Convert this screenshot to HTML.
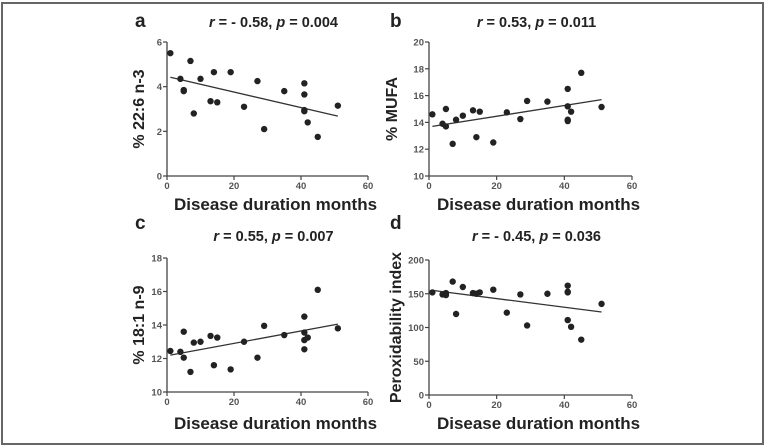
<!DOCTYPE html>
<html><head><meta charset="utf-8"><style>
body{margin:0;background:#fff;}
svg{display:block;font-family:"Liberation Sans",Arial,sans-serif;}
</style></head><body>
<svg id="fig" width="766" height="447" viewBox="0 0 766 447">
<rect x="2" y="3" width="761" height="441" fill="#fff" stroke="#666" stroke-width="2"/>
</svg>
<script>
const xMonths = [1,4,5,5,7,8,10,13,14,15,19,23,27,29,35,41,41,41,41,42,45,51];
const dhaValues = [5.5,4.35,3.85,3.8,5.15,2.8,4.35,3.35,4.65,3.3,4.65,3.1,4.25,2.1,3.8,4.15,3.65,2.95,2.9,2.4,1.75,3.15];
const mufaValues = [14.6,13.9,15.0,13.7,12.4,14.2,14.5,14.9,12.9,14.8,12.5,14.75,14.25,15.6,15.55,16.5,15.2,14.2,14.1,14.8,17.7,15.15];
const oleicValues = [12.45,12.4,12.05,13.6,11.2,12.95,13.0,13.35,11.6,13.25,11.35,13.0,12.05,13.95,13.4,14.5,13.55,13.1,12.55,13.25,16.1,13.8];
const peroxValues = [152,149,148,151,168,120,160,151,150,152,156,122,149,103,150,162,153,111,152,101,82,135];
const xTicks = [0,20,40,60];
const dhaTicks = [0,2,4,6];
const mufaTicks = [10,12,14,16,18,20];
const oleicTicks = [10,12,14,16,18];
const peroxTicks = [0,50,100,150,200];
const dhaFit = [4.42,2.68];
const mufaFit = [13.7,15.7];
const oleicFit = [12.2,14.05];
const peroxFit = [155,123];
const fitX = [1,51];

const svg = document.getElementById('fig');
const NS = 'http://www.w3.org/2000/svg';
function mk(tag, attrs, parent){const e=document.createElementNS(NS,tag);for(const k in attrs)e.setAttribute(k,attrs[k]);(parent||svg).appendChild(e);return e;}

function panel(o){
  const g = mk('g',{});
  
  
  const sx = v => o.x0 + (v - 0) / 60 * (o.x1 - o.x0);
  const sy = v => o.y0 - (v - o.ymin) / (o.ymax - o.ymin) * (o.y0 - o.y1);
  const ax = mk('path',{d:`M${o.x0},${o.y1} V${o.y0} H${o.x1}`,stroke:'#444','stroke-width':1.3,fill:'none'},g);
  
  
  o.yt.forEach(t=>{
    const y=sy(t);
    mk('line',{x1:o.x0-4,x2:o.x0,y1:y,y2:y,stroke:'#444','stroke-width':1.2},g);
    const tx=mk('text',{x:o.x0-5,y:y+3.5,'text-anchor':'end','font-size':9.5,'font-weight':'bold',fill:'#555'},g);
    tx.textContent=t;
    
    
  });
  xTicks.forEach(t=>{
    const x=sx(t);
    mk('line',{x1:x,x2:x,y1:o.y0,y2:o.y0+4,stroke:'#444','stroke-width':1.2},g);
    const tx=mk('text',{x:x,y:o.y0+13,'text-anchor':'middle','font-size':9.5,'font-weight':'bold',fill:'#555'},g);
    tx.textContent=t;
    
    
  });
  const fl = mk('line',{x1:sx(fitX[0]),y1:sy(o.fit[0]),x2:sx(fitX[1]),y2:sy(o.fit[1]),stroke:'#333','stroke-width':1.3},g);
  
  
  o.vals.forEach((v,i)=>{
    const c=mk('circle',{cx:sx(xMonths[i]),cy:sy(v),r:3.2,fill:'#222'},g);
    
    
  });
  const L=mk('text',{x:o.lx,y:o.ly,'font-size':19,'font-weight':'bold',fill:'#222'},g);
  L.textContent=o.letter;
  
  
  const T=mk('text',{x:(o.x0+o.x1)/2+6,y:o.ty,'text-anchor':'middle','font-size':14.5,'font-weight':'bold',fill:'#222'},g);
  T.innerHTML=`<tspan font-style="italic">r</tspan> = ${o.r}, <tspan font-style="italic">p</tspan> = ${o.p}`;
  
  
  const X=mk('text',{x:(o.x0+o.x1)/2+8,y:o.xty,'text-anchor':'middle','font-size':17,'font-weight':'bold',fill:'#222'},g);
  X.textContent='Disease duration months';
  
  
  const yc=(o.y0+o.y1)/2;
  const Y=mk('text',{x:o.ytx,y:yc,'text-anchor':'middle','font-size':16,'font-weight':'bold',fill:'#222',transform:`rotate(-90 ${o.ytx} ${yc})`},g);
  Y.textContent=o.ylabel;
  
  
}
panel({letter:'a',x0:167,x1:368,y0:176,y1:42,ymin:0,ymax:6,yt:dhaTicks,vals:dhaValues,fit:dhaFit,r:'- 0.58',p:'0.004',lx:135,ly:27,ty:27,xty:210,ylabel:'% 22:6 n-3',ytx:144});
panel({letter:'b',x0:429,x1:632,y0:176,y1:42,ymin:10,ymax:20,yt:mufaTicks,vals:mufaValues,fit:mufaFit,r:'0.53',p:'0.011',lx:390,ly:27,ty:27,xty:210,ylabel:'% MUFA',ytx:397});
panel({letter:'c',x0:167,x1:368,y0:392,y1:258,ymin:10,ymax:18,yt:oleicTicks,vals:oleicValues,fit:oleicFit,r:'0.55',p:'0.007',lx:135,ly:229,ty:241,xty:429,ylabel:'% 18:1 n-9',ytx:144});
panel({letter:'d',x0:429,x1:632,y0:395,y1:260,ymin:0,ymax:200,yt:peroxTicks,vals:peroxValues,fit:peroxFit,r:'- 0.45',p:'0.036',lx:390,ly:229,ty:241,xty:429,ylabel:'Peroxidability index',ytx:401});
</script>
</body></html>
